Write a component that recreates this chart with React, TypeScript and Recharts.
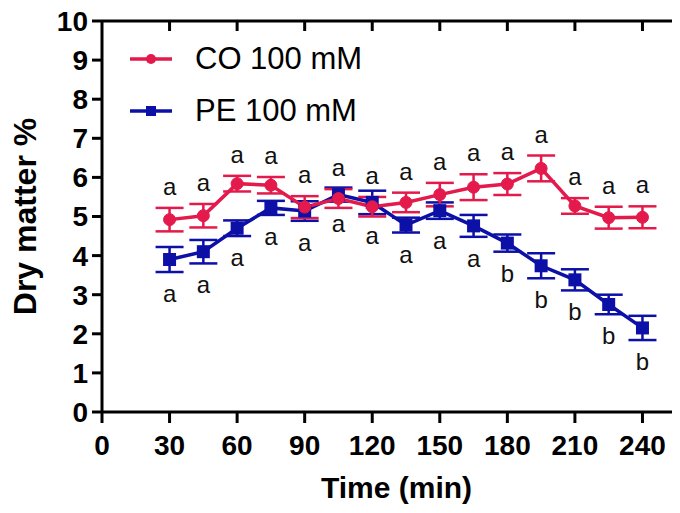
import { LineChart, Line, XAxis, YAxis, ErrorBar, LabelList, Legend, Label, ReferenceLine } from "recharts";

// sampling times (min)
const times = [30, 45, 60, 75, 90, 105, 120, 135, 150, 165, 180, 195, 210, 225, 240];

// CO 100 mM
const coMean = [4.92, 5.02, 5.84, 5.8, 5.24, 5.46, 5.25, 5.36, 5.56, 5.75, 5.83, 6.23, 5.27, 4.97, 4.98];
const coSem = [0.3, 0.3, 0.2, 0.21, 0.28, 0.24, 0.25, 0.25, 0.3, 0.33, 0.28, 0.33, 0.2, 0.28, 0.28];
const coLetters = ["a", "a", "a", "a", "a", "a", "a", "a", "a", "a", "a", "a", "a", "a", "a"];

// PE 100 mM
const peMean = [3.9, 4.1, 4.7, 5.22, 5.14, 5.56, 5.36, 4.78, 5.15, 4.76, 4.32, 3.74, 3.38, 2.75, 2.15];
const peSem = [0.32, 0.3, 0.2, 0.18, 0.25, 0.18, 0.3, 0.19, 0.21, 0.28, 0.22, 0.32, 0.27, 0.25, 0.31];
const peLetters = ["a", "a", "a", "a", "a", "a", "a", "a", "a", "a", "b", "b", "b", "b", "b"];

const seriesNames = ["CO 100 mM", "PE 100 mM"];
const xTicks = [0, 30, 60, 90, 120, 150, 180, 210, 240];
const yTicks = [0, 1, 2, 3, 4, 5, 6, 7, 8, 9, 10];
const X_MAX = 258;
const Y_MAX = 10;

const CO_COLOR = "#e31a4b";
const PE_COLOR = "#0c10a6";
const FONT = "Arial, 'Liberation Sans', sans-serif";

const CHART_W = 690;
const CHART_H = 505;
const MARGIN = { top: 13, right: 15, bottom: 0, left: 0 };
const Y_AXIS_W = 94;

const data = times.map((t, i) => ({
  time: t,
  co: coMean[i],
  coErr: coSem[i],
  coLetter: coLetters[i],
  pe: peMean[i],
  peErr: peSem[i],
  peLetter: peLetters[i],
}));

const axisStroke = { stroke: "#000", strokeWidth: 3 };
const tickFont = { fontSize: 28, fontWeight: 700, fill: "#000", fontFamily: FONT };
const letterStyle = { fontSize: 24, fill: "#111", fontFamily: FONT };

const SquareDot = (props: any) => {
  const { cx, cy, index } = props;
  if (cx == null || cy == null) return null;
  return <rect key={index} x={cx - 6.5} y={cy - 6.5} width={13} height={13} fill={PE_COLOR} />;
};

// y title, plus the inward ticks of the top / right frame (plot box taken from the y-axis viewBox)
const YTitle = (props: any) => {
  const { x, y, height } = props.viewBox;
  const cx = x + 17;
  const cy = y + height / 2;
  const left = x + Y_AXIS_W;
  const right = CHART_W - MARGIN.right;
  const plotW = right - left;
  return (
    <g>
      <text
        x={cx}
        y={cy}
        transform={`rotate(-90, ${cx}, ${cy})`}
        textAnchor="middle"
        dominantBaseline="central"
        style={{ fontSize: 32, fontWeight: 700, fontFamily: FONT, fill: "#000" }}
      >
        Dry matter %
      </text>
      {xTicks.slice(1).map((t) => {
        const tx = left + (t / X_MAX) * plotW;
        return <line key={`t${t}`} x1={tx} x2={tx} y1={y} y2={y + 10} stroke="#000" strokeWidth={3} />;
      })}
      {yTicks.slice(1).map((v) => {
        const ty = y + height * (1 - v / Y_MAX);
        return <line key={`r${v}`} x1={right - 10} x2={right} y1={ty} y2={ty} stroke="#000" strokeWidth={3} />;
      })}
    </g>
  );
};

const renderLegend = () => {
  const colors = [CO_COLOR, PE_COLOR];
  return (
    <div style={{ fontFamily: FONT, fontSize: 31, color: "#000" }}>
      {seriesNames.map((name, i) => (
        <div key={name} style={{ display: "flex", alignItems: "center", height: 52 }}>
          <svg width={42} height={16} style={{ marginRight: 23 }}>
            <line x1={0} y1={8} x2={42} y2={8} stroke={colors[i]} strokeWidth={3.5} />
            {i === 0 ? (
              <circle cx={21} cy={8} r={5} fill={colors[i]} />
            ) : (
              <rect x={16} y={3} width={10} height={10} fill={colors[i]} />
            )}
          </svg>
          <span>{name}</span>
        </div>
      ))}
    </div>
  );
};

export default function App() {
  return (
    <div style={{ width: 672, height: CHART_H, overflow: "hidden", position: "relative" }}>
      <LineChart width={CHART_W} height={CHART_H} data={data} margin={MARGIN}>
        <XAxis
          dataKey="time"
          type="number"
          domain={[0, X_MAX]}
          ticks={xTicks}
          interval={0}
          height={101}
          tickSize={11}
          tickMargin={12}
          axisLine={axisStroke}
          tickLine={axisStroke}
          tick={tickFont}
        >
          <Label
            value="Time (min)"
            position="insideBottom"
            offset={15}
            dx={4}
            style={{ fontSize: 30, fontWeight: 700, fontFamily: FONT, fill: "#000" }}
          />
        </XAxis>
        <YAxis
          type="number"
          domain={[0, Y_MAX]}
          ticks={yTicks}
          interval={0}
          width={Y_AXIS_W}
          tickSize={10}
          tickMargin={4}
          axisLine={axisStroke}
          tickLine={axisStroke}
          tick={tickFont}
        >
          <Label content={<YTitle />} />
        </YAxis>

        {/* top / right frame */}
        <ReferenceLine y={Y_MAX} stroke="#000" strokeWidth={3} />
        <ReferenceLine x={X_MAX} stroke="#000" strokeWidth={3} />

        <Legend
          layout="vertical"
          align="center"
          verticalAlign="middle"
          content={renderLegend}
          wrapperStyle={{ top: 25, left: 122, width: "auto" }}
        />
        <Line
          dataKey="pe"
          name={seriesNames[1]}
          stroke={PE_COLOR}
          strokeWidth={3.5}
          dot={SquareDot}
          activeDot={false}
          isAnimationActive={false}
        >
          <ErrorBar dataKey="peErr" direction="y" width={14} strokeWidth={2.5} stroke={PE_COLOR} />
        </Line>
        <Line
          dataKey="co"
          name={seriesNames[0]}
          stroke={CO_COLOR}
          strokeWidth={3.5}
          dot={{ r: 6, fill: CO_COLOR, stroke: CO_COLOR, strokeWidth: 1 }}
          activeDot={false}
          isAnimationActive={false}
        >
          <ErrorBar dataKey="coErr" direction="y" width={14} strokeWidth={2.5} stroke={CO_COLOR} />
        </Line>
        {/* significance letters above CO and below PE error bars */}
        <Line
          dataKey={(d: any) => d.co + d.coErr}
          stroke="none"
          dot={false}
          activeDot={false}
          legendType="none"
          isAnimationActive={false}
        >
          <LabelList dataKey="coLetter" position="top" offset={13} style={letterStyle} />
        </Line>
        <Line
          dataKey={(d: any) => d.pe - d.peErr}
          stroke="none"
          dot={false}
          activeDot={false}
          legendType="none"
          isAnimationActive={false}
        >
          <LabelList dataKey="peLetter" position="bottom" offset={13} style={letterStyle} />
        </Line>
      </LineChart>
    </div>
  );
}
